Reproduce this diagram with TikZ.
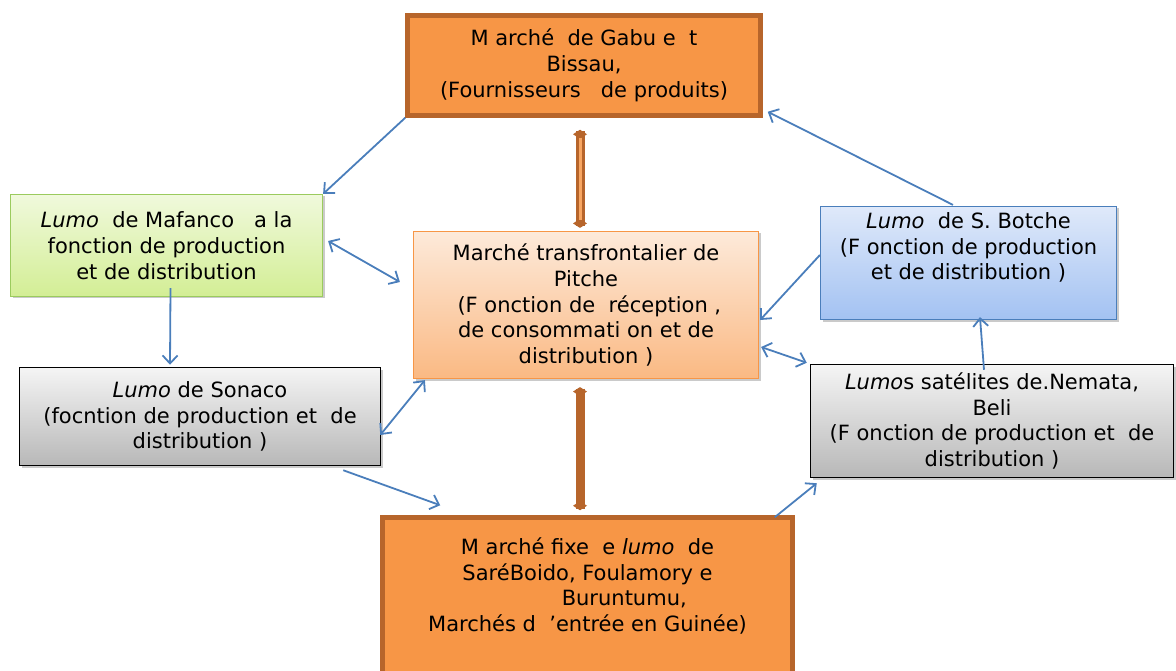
\documentclass[tikz,border=0pt]{standalone}
\usepackage{fontspec}
\setmainfont{DejaVu Sans}
\usetikzlibrary{arrows.meta,shadows}

\definecolor{marketfill}{HTML}{F79646}
\definecolor{marketline}{HTML}{B7652B}
\definecolor{linkblue}{HTML}{4A7EBB}
\definecolor{pitchetop}{HTML}{FDEADA}
\definecolor{pitchebot}{HTML}{FAB983}
\definecolor{greentop}{HTML}{F0F9DC}
\definecolor{greenbot}{HTML}{D3EE95}
\definecolor{greenline}{HTML}{9BCB5E}
\definecolor{bluetop}{HTML}{DFE9FA}
\definecolor{bluebot}{HTML}{A3C2F2}

\tikzset{
  every node/.style={font=\fontsize{21}{25.8}\selectfont, align=center, inner sep=0pt},
  boxshadow/.style={drop shadow={shadow xshift=2pt, shadow yshift=-2pt, opacity=0.35, fill=black!60}},
  market/.style={draw=marketline, line width=4.5pt, fill=marketfill, boxshadow},
  pitchebox/.style={draw=marketfill, line width=1.2pt, top color=pitchetop, bottom color=pitchebot, boxshadow},
  greenbox/.style={draw=greenline, line width=1.2pt, top color=greentop, bottom color=greenbot, boxshadow},
  bluebox/.style={draw=linkblue, line width=1.2pt, top color=bluetop, bottom color=bluebot, boxshadow},
  greybox/.style={draw=black, line width=1.5pt, top color=black!4, bottom color=black!28, boxshadow},
  link/.style={draw=linkblue, line width=1.8pt, -{Straight Barb[length=8pt,width=15pt]}},
  twolink/.style={link, {Straight Barb[length=8pt,width=15pt]}-{Straight Barb[length=8pt,width=15pt]}},
  mainlink/.style={draw=marketline, line width=9pt, {Diamond[length=9pt,width=14pt]}-{Diamond[length=9pt,width=14pt]}}
}

\begin{document}
\begin{tikzpicture}[x=1pt, y=-1pt]
  \useasboundingbox (0,0) rectangle (1176,671);

  % markets
  \node[market, minimum width=353pt, minimum height=100pt] (gabu) at (584,65.5)
    {M arché\ \ de Gabu e\ \ t\\Bissau,\\(Fournisseurs\ \ \ de produits)};
  \node[pitchebox, minimum width=345pt, minimum height=147pt] (pitche) at (586,305)
    {Marché transfrontalier de\\Pitche\\\ (F onction de\ \ réception ,\\de consommati on et de\\distribution )};
  \node[market, minimum width=410pt, minimum height=160pt] (boido) at (587.5,597.5)
    {M arché fixe\ \ e \textit{lumo}\ \ de\\SaréBoido, Foulamory e\hspace{1.5em}\\\hspace{3.5em}Buruntumu,\\Marchés d\ \ ’entrée en Guinée)\\\mbox{}};

  % lumos
  \node[greenbox, minimum width=312pt, minimum height=102pt] (mafanco) at (166.5,245.5)
    {\textit{Lumo}\ \ de Mafanco\ \ \ a la\\fonction de production\ \\et de distribution};
  \node[greybox, minimum width=361pt, minimum height=98pt] (sonaco) at (200,416.5)
    {\textit{Lumo} de Sonaco\\(focntion de production et\ \ de\\distribution )};
  \node[bluebox, minimum width=296pt, minimum height=113pt] (botche) at (968.5,263)
    {\textit{Lumo}\ \ de S. Botche\\(F onction de production\\et de\ distribution )\\[8pt]\mbox{}};
  \node[greybox, minimum width=363pt, minimum height=113pt] (nemata) at (992,421)
    {\textit{Lumo}s satélites de.Nemata,\\Beli\\(F onction de production et\ \ de\\distribution )};

  % flows
  \draw[link] (gabu.south west) -- (mafanco.north east);
  \draw[link] ([shift={(4,-9)}]mafanco.south) -- ([shift={(-30,-2)}]sonaco.north);
  \draw[twolink] ([shift={(5,-4.5)}]mafanco.east) -- ([shift={(-13,-23)}]pitche.west);
  \draw[twolink] ([shift={(-1,18.5)}]sonaco.east) -- ([shift={(12,1)}]pitche.south west);
  \draw[link] ([shift={(-38,4)}]sonaco.south east) -- ([shift={(60,-10)}]boido.north west);
  \draw[link] ([shift={(-20,2)}]boido.north east) -- ([shift={(7,5)}]nemata.south west);
  \draw[link] ([shift={(-8,6)}]nemata.north) -- ([shift={(11.5,-3)}]botche.south);
  \draw[link] ([shift={(-15.5,-1)}]botche.north) -- ([shift={(5,-6)}]gabu.south east);
  \draw[link] ([shift={(0,-8)}]botche.west) -- ([shift={(1,15)}]pitche.east);
  \draw[twolink] ([shift={(-3,-1)}]nemata.north west) -- ([shift={(2,42)}]pitche.east);

  % main axis
  \draw[mainlink] ([shift={(-4,12)}]gabu.south) -- ([shift={(-6,-3)}]pitche.north);
  \draw[marketfill!85!white, line width=3pt] ([shift={(-4,20)}]gabu.south) -- ([shift={(-6,-11)}]pitche.north);
  \draw[mainlink] ([shift={(-6,8)}]pitche.south) -- ([shift={(-7.5,-5)}]boido.north);
\end{tikzpicture}
\end{document}
